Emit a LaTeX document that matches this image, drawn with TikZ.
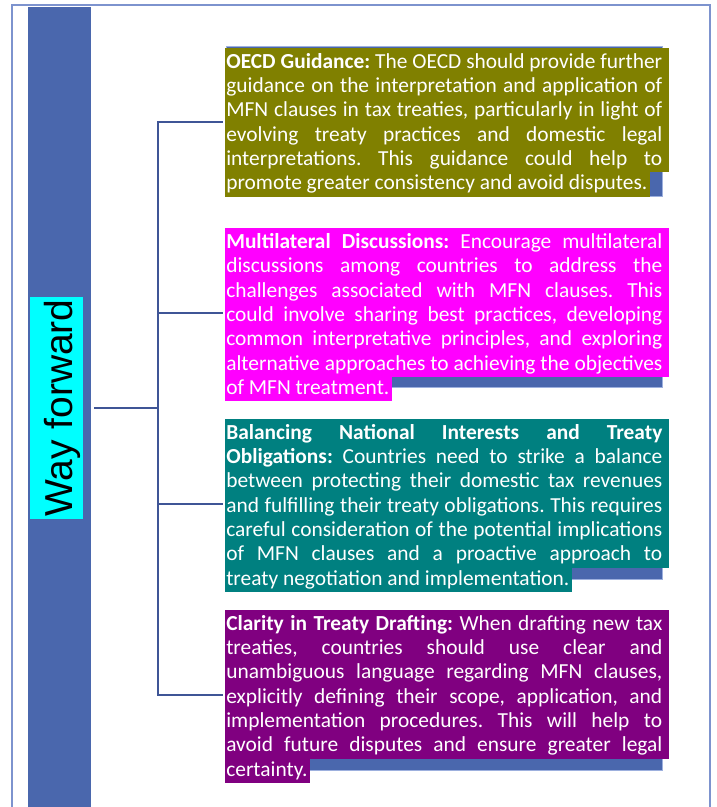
\documentclass[tikz,border=0pt]{standalone}
\usepackage{fontspec}
\setmainfont{Carlito}
\newfontfamily\wayfont{Liberation Sans}
\frenchspacing

\definecolor{barblue}{HTML}{4A67AD}
\definecolor{framebl}{HTML}{7D93CE}
\definecolor{linkblue}{HTML}{3F5596}
\definecolor{topedge}{HTML}{9DB0DE}
\definecolor{hlolive}{HTML}{808000}
\definecolor{hlmagenta}{HTML}{FF00FF}
\definecolor{hlteal}{HTML}{008080}
\definecolor{hlpurple}{HTML}{800080}
\definecolor{wfcyan}{HTML}{00FFFF}

% one justified line of a highlighted paragraph
\newcommand{\jline}[1]{\hspace*{1pt}\makebox[436pt][s]{#1}\hspace*{5.7pt}}
\newcommand{\bodyfont}{\fontsize{21.4}{24}\selectfont}
% a full line placed under the previous one, and the closing short line
\newcommand{\fullline}[4]{\node[hl=#3] (#1) at (#2.south west) {\jline{#4}};}
\newcommand{\lastline}[4]{\node[hl=#3] (#1) at (#2.south west) {\hspace*{1pt}#4\hspace*{2pt}};}

\tikzset{
  hl/.style={fill=#1, draw=#1, line width=0.6pt, text=white, font=\bodyfont, inner sep=0pt,
    text height=17.7pt, text depth=6pt, anchor=north west},
  hlfirst/.style={hl=#1, text height=20pt},
  backing/.style={fill=barblue, draw=topedge, line width=0.6pt},
  conn/.style={draw=linkblue, line width=2pt},
  wf/.style={fill=wfcyan, text=black, font=\wayfont\fontsize{39}{39}\selectfont,
    inner sep=0pt, text height=42pt, text depth=11pt, minimum width=222pt}
}

\begin{document}
\begin{tikzpicture}[x=1pt,y=-1pt]
\useasboundingbox (0,0) rectangle (716,807);
\fill[white] (0,0) rectangle (716,807);
\clip (0,0) rectangle (716,807);

% page frame and side bar
\draw[framebl, line width=1.2pt] (12,812) -- (12,5) -- (710,5) -- (710,812);
\fill[barblue] (28,7.3) rectangle (90.7,812);
\node[wf, rotate=90] (way) at (56.5,408) {Way forward};

% backing panels
\path[backing] (226,46.5) rectangle (662.7,196);
\path[backing] (226,229.5) rectangle (662.7,387.7);
\path[backing] (226,420) rectangle (662.7,579);
\path[backing] (226,611) rectangle (662.7,770);

% OECD guidance
\node[hlfirst=hlolive] (oecd-1) at (225,48) {\jline{\textbf{OECD Guidance:} The OECD should provide further}};
\fullline{oecd-2}{oecd-1}{hlolive}{guidance on the interpretation and application of}
\fullline{oecd-3}{oecd-2}{hlolive}{MFN clauses in tax treaties, particularly in light of}
\fullline{oecd-4}{oecd-3}{hlolive}{evolving treaty practices and domestic legal}
\fullline{oecd-5}{oecd-4}{hlolive}{interpretations. This guidance could help to}
\lastline{oecd-6}{oecd-5}{hlolive}{promote greater consistency and avoid disputes.}

% multilateral discussions
\node[hlfirst=hlmagenta] (multi-1) at (225,228.3) {\jline{\textbf{Multilateral Discussions:} Encourage multilateral}};
\fullline{multi-2}{multi-1}{hlmagenta}{discussions among countries to address the}
\fullline{multi-3}{multi-2}{hlmagenta}{challenges associated with MFN clauses. This}
\fullline{multi-4}{multi-3}{hlmagenta}{could involve sharing best practices, developing}
\fullline{multi-5}{multi-4}{hlmagenta}{common interpretative principles, and exploring}
\fullline{multi-6}{multi-5}{hlmagenta}{alternative approaches to achieving the objectives}
\lastline{multi-7}{multi-6}{hlmagenta}{of MFN treatment.}

% balancing interests
\node[hlfirst=hlteal] (bal-1) at (225,419) {\jline{\textbf{Balancing National Interests and Treaty}}};
\fullline{bal-2}{bal-1}{hlteal}{\textbf{Obligations:} Countries need to strike a balance}
\fullline{bal-3}{bal-2}{hlteal}{between protecting their domestic tax revenues}
\fullline{bal-4}{bal-3}{hlteal}{and fulfilling their treaty obligations. This requires}
\fullline{bal-5}{bal-4}{hlteal}{careful consideration of the potential implications}
\fullline{bal-6}{bal-5}{hlteal}{of MFN clauses and a proactive approach to}
\lastline{bal-7}{bal-6}{hlteal}{treaty negotiation and implementation.}

% clarity in drafting
\node[hlfirst=hlpurple] (clar-1) at (225,610) {\jline{\textbf{Clarity in Treaty Drafting:} When drafting new tax}};
\fullline{clar-2}{clar-1}{hlpurple}{treaties, countries should use clear and}
\fullline{clar-3}{clar-2}{hlpurple}{unambiguous language regarding MFN clauses,}
\fullline{clar-4}{clar-3}{hlpurple}{explicitly defining their scope, application, and}
\fullline{clar-5}{clar-4}{hlpurple}{implementation procedures. This will help to}
\fullline{clar-6}{clar-5}{hlpurple}{avoid future disputes and ensure greater legal}
\lastline{clar-7}{clar-6}{hlpurple}{certainty.}

% bracket joining the bar to the four panels
\coordinate (root) at (94,408.3);
\coordinate (hub) at (158.3,408.3);
\coordinate (k1) at (222.5,122);
\coordinate (k2) at (222.5,313);
\coordinate (k3) at (222.5,504);
\coordinate (k4) at (222.5,695);
\draw[conn] (root) -- (hub);
\draw[conn] (k1) -| (hub) |- (k4);
\draw[conn] (hub |- k2) -- (k2);
\draw[conn] (hub |- k3) -- (k3);
\end{tikzpicture}
\end{document}
